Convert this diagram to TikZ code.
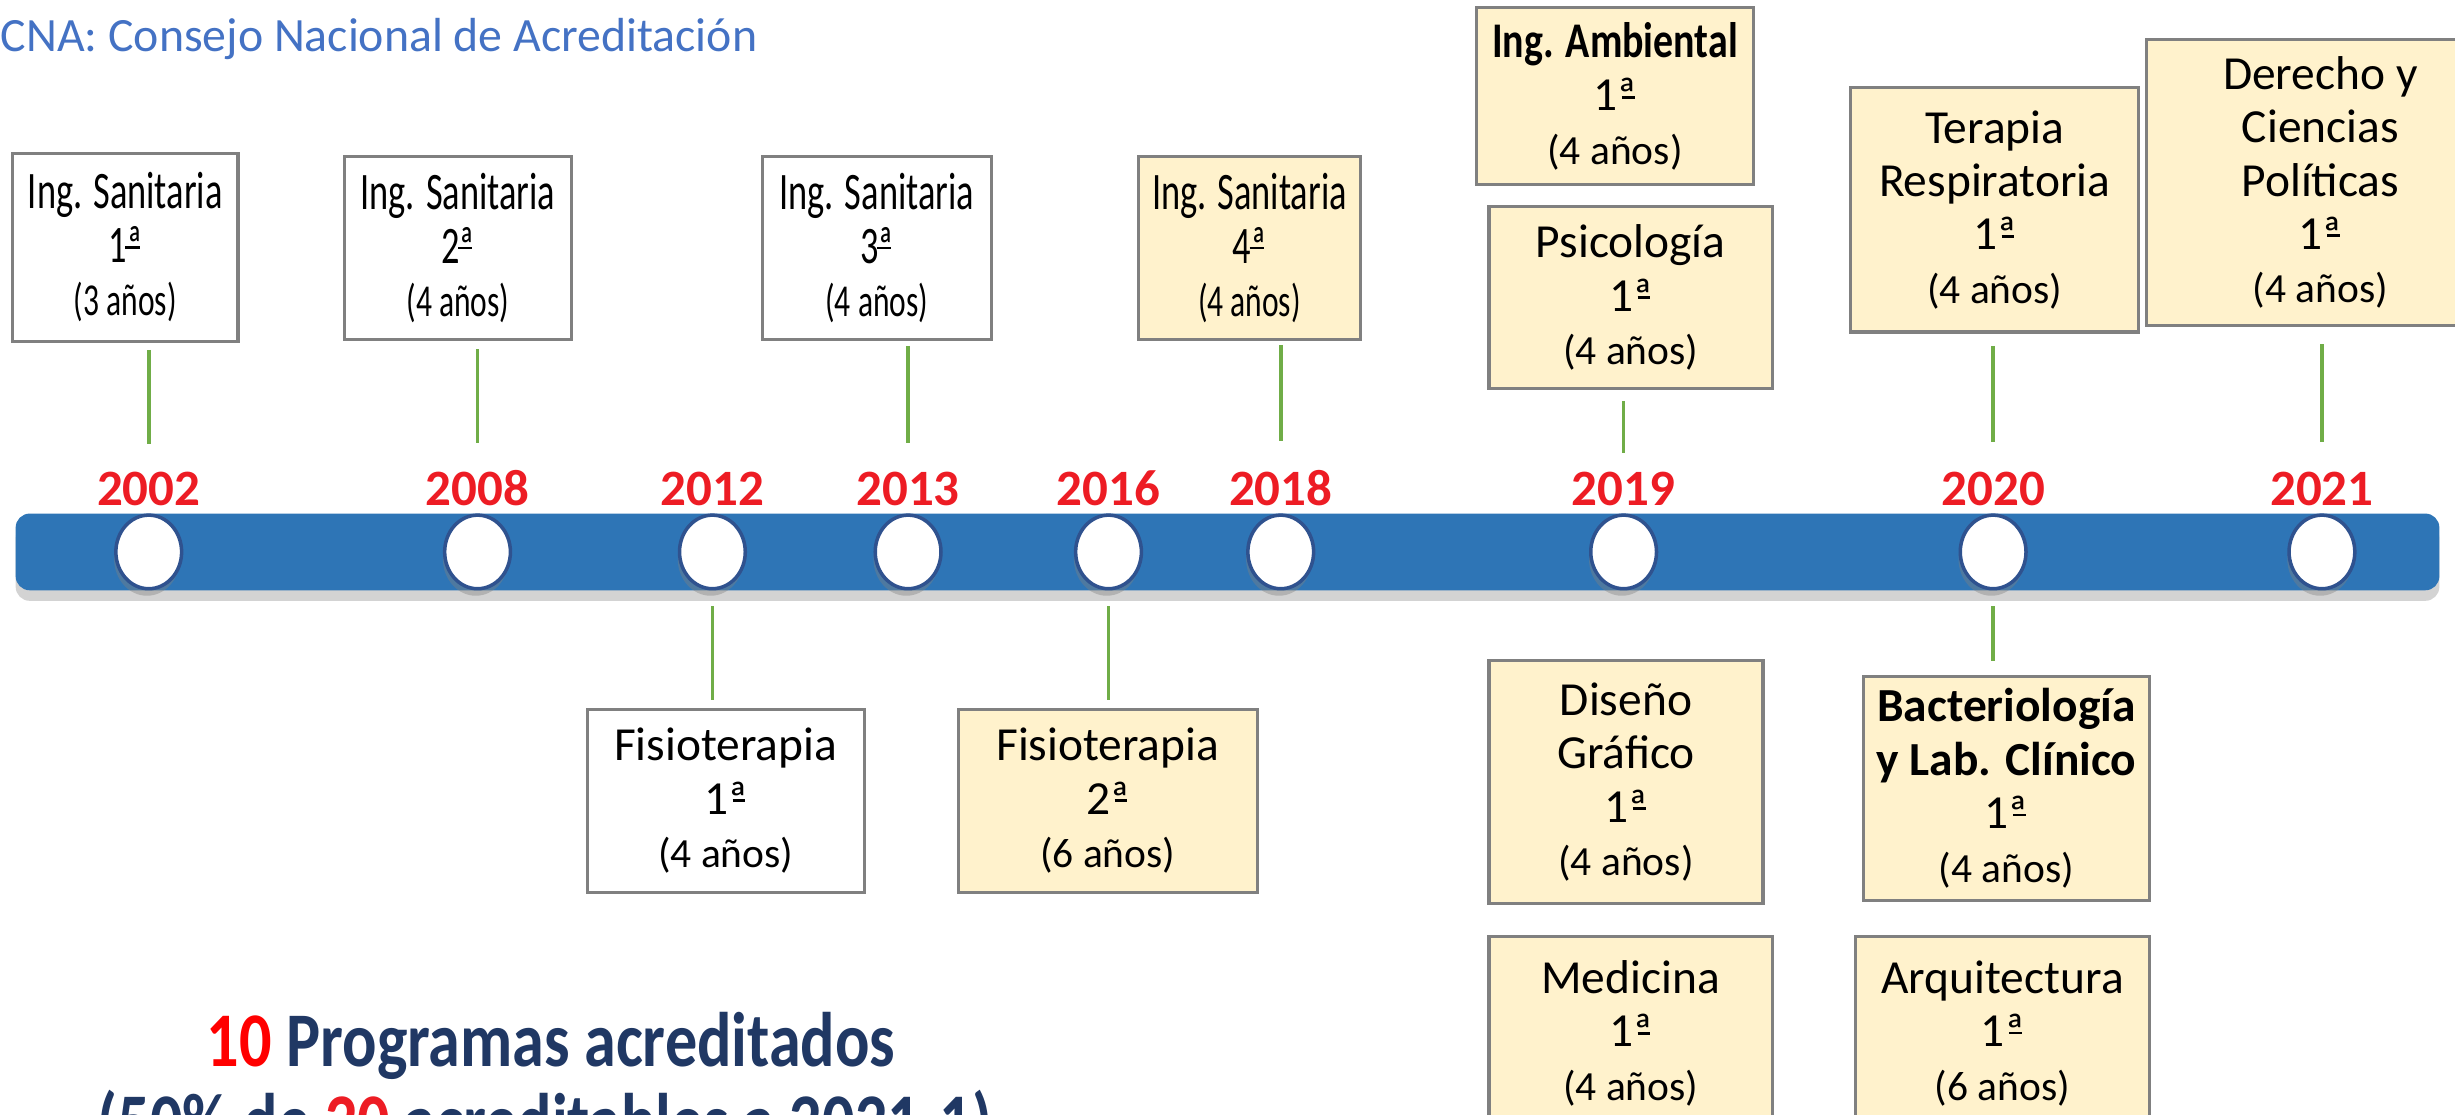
\documentclass[tikz,border=0pt]{standalone}
\usepackage{fontspec}
\setmainfont{Carlito}
\newfontfamily\narrowfont[FakeStretch=0.69]{Carlito}
\newfontfamily\semifont[FakeStretch=0.8]{Carlito}
\newfontfamily\totalfont[FakeStretch=0.83]{Carlito}
\usepackage{tikz}
\usetikzlibrary{shapes,calc,positioning,shadows}

\definecolor{barblue}{RGB}{46,117,182}
\definecolor{ringblue}{RGB}{47,82,143}
\definecolor{cream}{RGB}{255,242,204}
\definecolor{yearred}{RGB}{237,28,36}
\definecolor{tickgreen}{RGB}{112,173,71}
\definecolor{titleblue}{RGB}{68,114,196}
\definecolor{navy}{RGB}{32,56,100}
\definecolor{boxgray}{RGB}{128,128,128}

\newlength\px
\setlength\px{0.44548pt}
\newcommand{\anos}[1]{{\fontsize{11.8}{15.2}\selectfont(#1 años)}}
\newcommand{\anosn}[1]{{\fontsize{13}{15.2}\selectfont(#1 años)}}
\newcommand{\ord}[1]{#1ª\llap{\rule[0.26em]{0.27em}{0.055em}\kern0.04em}}

\begin{document}
\begin{tikzpicture}[x=0.44548pt, y=-0.44548pt,
	prog/.style={draw=boxgray, line width=0.9pt, align=center, inner sep=0pt, font=\fontsize{13.5}{15.2}\selectfont},
	old/.style={prog, fill=white},
	new/.style={prog, fill=cream},
	narrow/.style={font=\narrowfont\fontsize{15}{15.2}\selectfont},
	size/.style 2 args={minimum width=#1\px, minimum height=#2\px},
	dot/.style={ellipse, draw=ringblue, line width=1pt, fill=white, inner sep=0pt, minimum width=42\px, minimum height=47\px, drop shadow={shadow xshift=-0.5pt, shadow yshift=-2pt, opacity=0.4}},
	yearlbl/.style={text=yearred, font=\bfseries\fontsize{14.5}{17}\selectfont, inner sep=0pt},
	tick/.style={draw=tickgreen, line width=1pt}]
	\useasboundingbox (0,0) rectangle (1568,712);

	\node[anchor=west, inner sep=0pt, text=titleblue, font=\fontsize{13.6}{16}\selectfont] (title) at (0,25) {CNA: Consejo Nacional de Acreditación};

	% timeline
	\node[rectangle, fill=barblue, rounded corners=4pt, inner sep=0pt, minimum width=1548\px, minimum height=49\px, drop shadow={shadow xshift=0pt, shadow yshift=-3pt, opacity=0.35}] (bar) at (784,352.5) {};
	\foreach \x/\yr in {95/2002,305/2008,455/2012,580/2013,708/2016,818/2018,1037/2019,1273/2020,1483/2021} {
		\node[dot] (c\yr) at (\x,352.5) {};
		\node[yearlbl] (y\yr) at (\x,312) {\yr};
	}

	% above the line
	\node[old, narrow, size={144}{120}] (san1) at (80,158) {Ing. Sanitaria\\\ord{1}\\\anosn{3}};
	\node[old, narrow, size={145}{117}] (san2) at (292.5,158.5) {Ing. Sanitaria\\\ord{2}\\\anosn{4}};
	\node[old, narrow, size={146}{117}] (san3) at (560,158.5) {Ing. Sanitaria\\\ord{3}\\\anosn{4}};
	\node[new, narrow, size={142}{117}] (san4) at (798,158.5) {Ing. Sanitaria\\\ord{4}\\\anosn{4}};
	\node[new, size={177}{113}] (amb) at (1031.5,61.5) {{\semifont\bfseries\fontsize{14.2}{15.2}\selectfont Ing. Ambiental}\\\ord{1}\\\anos{4}};
	\node[new, size={181}{116}] (psi) at (1041.5,190) {Psicología\\\ord{1}\\\anos{4}};
	\node[new, size={184}{156}] (ter) at (1274,134) {Terapia\\Respiratoria\\\ord{1}\\\anos{4}};
	\node[new, size={222}{183}] (der) at (1482,116.5) {Derecho y\\Ciencias\\Políticas\\\ord{1}\\\anos{4}};

	% below the line
	\node[old, size={177}{117}] (fis1) at (463.5,511.5) {Fisioterapia\\\ord{1}\\\anos{4}};
	\node[new, size={191}{117}] (fis2) at (707.5,511.5) {Fisioterapia\\\ord{2}\\\anos{6}};
	\node[new, size={175}{155}] (dis) at (1038.5,499.5) {Diseño\\Gráfico\\\ord{1}\\\anos{4}};
	\node[new, size={183}{143}] (bac) at (1281.5,503.5) {\textbf{Bacteriología}\\\textbf{y Lab. Clínico}\\\ord{1}\\\anos{4}};
	\node[new, size={181}{124}] (med) at (1041.5,660) {Medicina\\\ord{1}\\\anos{4}};
	\node[new, size={188}{124}] (arq) at (1279,660) {Arquitectura\\\ord{1}\\\anos{6}};

	\draw[tick, shorten <=2pt, shorten >=7.6pt] (san1.south -| c2002) -- (y2002.north);
	\draw[tick, shorten <=2.2pt, shorten >=7.6pt] (san2.south -| c2008) -- (y2008.north);
	\draw[tick, shorten <=1.3pt, shorten >=7.9pt] (san3.south -| c2013) -- (y2013.north);
	\draw[tick, shorten <=1pt, shorten >=8.3pt] (san4.south -| c2018) -- (y2018.north);
	\draw[tick, shorten <=3.1pt, shorten >=5pt] (psi.south -| c2019) -- (y2019.north);
	\draw[tick, shorten <=3.5pt, shorten >=8.3pt] (ter.south -| c2020) -- (y2020.north);
	\draw[tick, shorten <=4.9pt, shorten >=8.3pt] (der.south -| c2021) -- (y2021.north);
	\draw[tick, shorten <=4.5pt, shorten >=2.2pt] (c2012.south) -- (fis1.north -| c2012);
	\draw[tick, shorten <=4.5pt, shorten >=2.2pt] (c2016.south) -- (fis2.north -| c2016);
	\draw[tick, shorten <=4.5pt, shorten >=4pt] (c2020.south) -- (bac.north -| c2020);

	\node[anchor=base, inner sep=0pt, text=navy, font=\totalfont\bfseries\fontsize{22}{26}\selectfont] (total) at (352,681) {\textcolor{red}{10} Programas acreditados};
	\node[anchor=base, inner sep=0pt, text=navy, font=\totalfont\bfseries\fontsize{22}{26}\selectfont] (share) at (348,733) {(50\% de \textcolor{yearred}{20} acreditables a 2021-1)};
\end{tikzpicture}
\end{document}
